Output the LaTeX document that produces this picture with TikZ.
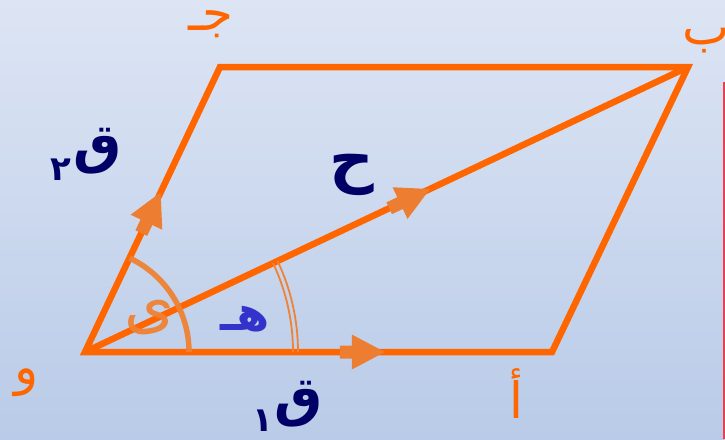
\documentclass[tikz,border=0pt]{standalone}
\usepackage{fontspec}
\setmainfont{DejaVu Sans}
\newfontfamily\arabicfont[Script=Arabic]{DejaVu Sans}
\TeXXeTstate=1
\usetikzlibrary{decorations.markings,angles,calc}
\definecolor{bgtop}{RGB}{221,229,244}
\definecolor{bgbot}{RGB}{185,203,232}
\definecolor{edgeor}{RGB}{255,102,0}
\definecolor{arrowfill}{RGB}{237,125,49}
\definecolor{arcor}{RGB}{240,130,52}
\definecolor{navy}{RGB}{0,0,102}
\definecolor{hblue}{RGB}{51,51,204}
\definecolor{redline}{RGB}{232,64,80}
\tikzset{
  side/.style={draw=edgeor, line width=6.5pt, line join=miter},
  vecarrow/.style={postaction={decorate}, decoration={markings,
    mark=at position #1 with {\fill[arrowfill] (0pt,0pt) -- (-33pt,17.5pt) -- (-33pt,6.5pt) -- (-45pt,6.5pt) -- (-45pt,-6.5pt) -- (-33pt,-6.5pt) -- (-33pt,-17.5pt) -- cycle;}}},
  vlabel/.style={text=edgeor, inner sep=0pt, font=\arabicfont\fontsize{50}{60}\selectfont},
  qlabel/.style={text=navy, inner sep=0pt, font=\arabicfont\bfseries\fontsize{54}{64}\selectfont},
  dlabel/.style={text=navy, inner sep=0pt, font=\arabicfont\bfseries\fontsize{34}{40}\selectfont},
}
\begin{document}
\begin{tikzpicture}[x=1pt,y=-1pt]
\useasboundingbox (0,0) rectangle (725,439);
\shade[top color=bgtop, bottom color=bgbot] (0,0) rectangle (725,439);
% vertices
\coordinate (O) at (85,352);
\coordinate (A) at (552,352);
\coordinate (B) at (688,67);
\coordinate (C) at (220,67);
% parallelogram and diagonal
\draw[side] (O) -- (A) -- (B) -- (C) -- cycle;
\draw[side] (O) -- (B);
% vector arrowheads
\path[vecarrow=0.642] (O) -- (A);
\path[vecarrow=0.56] (O) -- (C);
\path[vecarrow=0.572] (O) -- (B);
% angle arcs
\pic[draw=arcor, line width=5.5pt, angle radius=104pt, opacity=0.95] {angle = A--O--C};
\pic[draw=arcor, line width=1.8pt, angle radius=208pt] {angle = A--O--B};
\pic[draw=arcor, line width=1.8pt, angle radius=213pt] {angle = A--O--B};
% red line at right edge
\draw[redline, line width=1.5pt] (723.8,82) -- (723.8,439);
% vertex labels
\node[vlabel] (lO) at (27,383) {\beginR و\endR};
\node[vlabel] (lA) at (516,394) {\beginR أ\endR};
\node[vlabel] (lB) at (706,41) {\beginR ب\endR};
\node[vlabel] (lC) at (211,24) {\beginR جـ\endR};
% vector labels
\node[qlabel] (q2) at (98,151) {\beginR ق\endR};
\node[dlabel] (d2) at (61,170) {\beginR ٢\endR};
\node[qlabel] (q1) at (299,404) {\beginR ق\endR};
\node[dlabel] (d1) at (263,421) {\beginR ١\endR};
\node[qlabel, font=\arabicfont\bfseries\fontsize{62}{72}\selectfont] (h) at (352,175) {\beginR ح\endR};
\node[text=hblue, inner sep=0pt, font=\arabicfont\bfseries\fontsize{48}{56}\selectfont] (he) at (245,319) {\beginR هـ\endR};
\node[text=arcor, inner sep=0pt, opacity=0.95, font=\arabicfont\fontsize{64}{72}\selectfont] (ya) at (150,318) {\beginR ى\endR};
\end{tikzpicture}
\end{document}
